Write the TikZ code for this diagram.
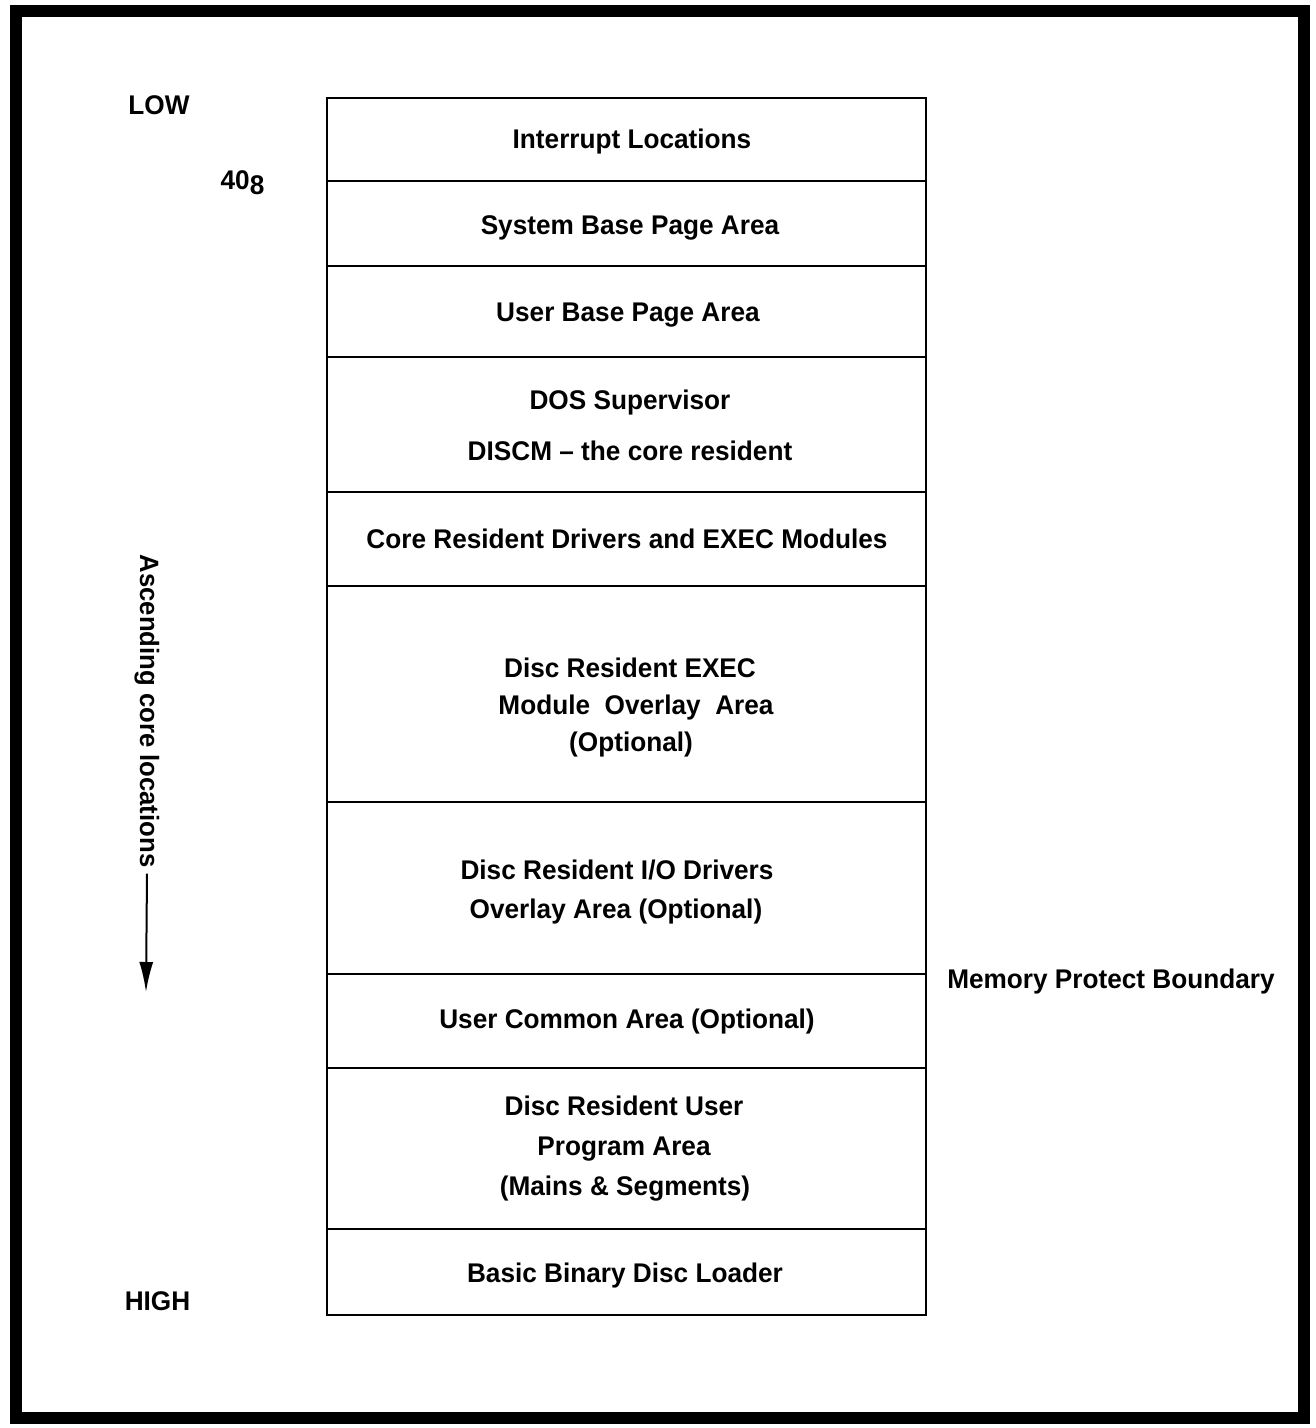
\documentclass[tikz,border=0pt]{standalone}
\usepackage{fontspec}
\setmainfont[FakeStretch=0.97]{Liberation Sans}
\usetikzlibrary{arrows.meta}
\tikzset{
  area/.style={draw, line width=2.5pt, minimum width=599pt, inner sep=0pt},
  lbl/.style={font=\bfseries\fontsize{27}{32}\selectfont, inner sep=0pt, anchor=base},
}
\begin{document}
\begin{tikzpicture}[x=1pt,y=-1pt]
\useasboundingbox (0,0) rectangle (1316,1428);
\draw[line width=12pt] (16,11) rectangle (1304,1418);
% memory areas
\node[area, minimum height=83pt]  (b1)  at (626.5,139.5) {};
\node[area, minimum height=85pt]  (b2)  at (626.5,223.5) {};
\node[area, minimum height=91pt]  (b3)  at (626.5,311.5) {};
\node[area, minimum height=135pt] (b4)  at (626.5,424.5) {};
\node[area, minimum height=94pt]  (b5)  at (626.5,539) {};
\node[area, minimum height=216pt] (b6)  at (626.5,694) {};
\node[area, minimum height=172pt] (b7)  at (626.5,888) {};
\node[area, minimum height=94pt]  (b8)  at (626.5,1021) {};
\node[area, minimum height=161pt] (b9)  at (626.5,1148.5) {};
\node[area, minimum height=86pt]  (b10) at (626.5,1272) {};
% texts (baselines)
\node[lbl] (t1)  at (632,148.5) {Interrupt Locations};
\node[lbl] (t2)  at (630,234.5) {System Base Page Area};
\node[lbl] (t3)  at (628,321.5) {User Base Page Area};
\node[lbl] (t4a) at (630,409.5) {DOS Supervisor};
\node[lbl] (t4b) at (630,460.5) {DISCM -- the core resident};
\node[lbl] (t5)  at (627,548.5) {Core Resident Drivers and EXEC Modules};
\node[lbl] (t6a) at (630,677.5) {Disc Resident EXEC};
\node[lbl] (t6b) at (636,714.5) {Module\ \ Overlay\ \ Area};
\node[lbl] (t6c) at (631,751.5) {(Optional)};
\node[lbl] (t7a) at (617,879.5) {Disc Resident I/O Drivers};
\node[lbl] (t7b) at (616,918.5) {Overlay Area (Optional)};
\node[lbl] (t8)  at (627,1028) {User Common Area (Optional)};
\node[lbl] (t9a) at (624,1115.5) {Disc Resident User};
\node[lbl] (t9b) at (624,1155) {Program Area};
\node[lbl] (t9c) at (625,1195) {(Mains \& Segments)};
\node[lbl] (t10) at (625,1282) {Basic Binary Disc Loader};
% side labels
\node[lbl] (low)  at (159,114) {LOW};
\node[lbl] (hex)  at (242.5,189) {40\raisebox{-5pt}{8}};
\node[lbl] (high) at (157.5,1310) {HIGH};
\node[lbl] (mpb)  at (1111,988) {Memory Protect Boundary};
\node[font=\bfseries\fontsize{26.5}{32}\selectfont, rotate=-90, inner sep=6pt] (asc) at (147,711) {Ascending core locations};
\coordinate (tip) at (146,992);
\draw[line width=2pt, -{Latex[length=30pt,width=14pt]}] (asc.east) -- (tip);
\end{tikzpicture}
\end{document}
